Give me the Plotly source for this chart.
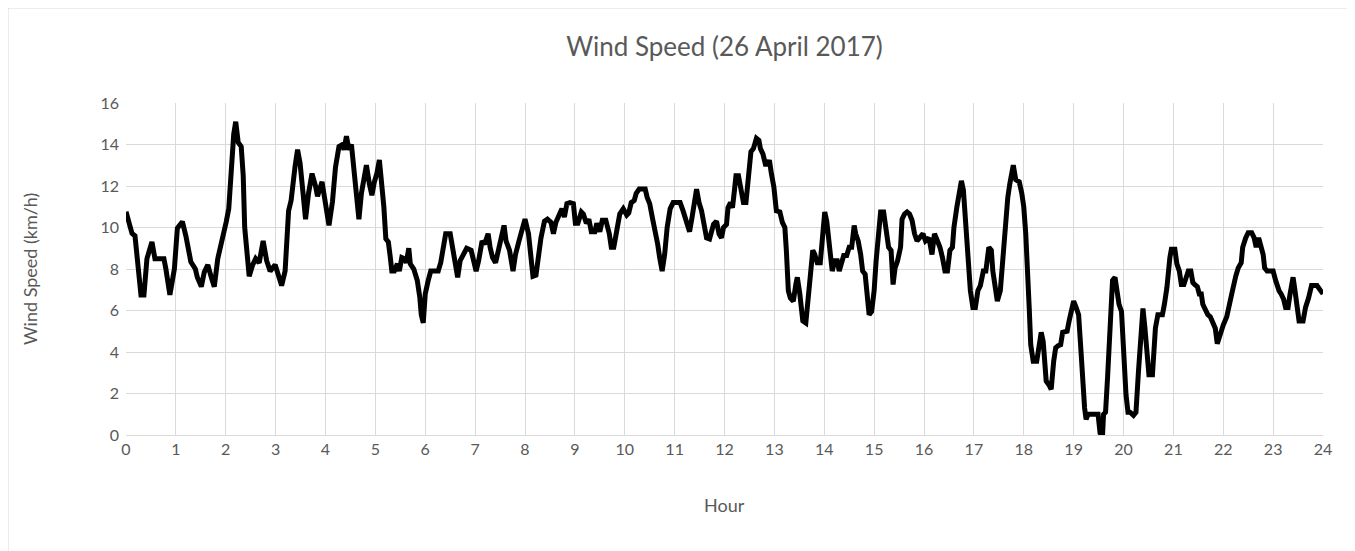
import plotly.graph_objects as go

hours = [0.00,0.12,0.18,0.30,0.36,0.42,0.52,0.58,0.66,0.76,0.80,0.88,0.97,1.03,1.13,1.20,1.30,1.39,1.43,1.51,1.57,1.64,1.71,1.77,1.84,1.91,1.98,
 2.01,2.06,2.11,2.16,2.20,2.25,2.31,2.35,2.38,2.42,2.47,2.54,2.60,2.67,2.75,2.82,2.89,2.99,3.06,3.12,3.19,3.23,3.26,3.31,3.35,3.39,3.44,3.49,3.55,3.60,3.66,3.73,3.80,3.84,3.93,
 4.00,4.07,4.14,4.20,4.27,4.34,4.37,4.42,4.47,4.52,4.57,4.63,4.67,4.72,4.78,4.82,4.88,4.93,4.98,5.03,5.08,5.13,5.17,5.21,5.26,5.30,5.33,5.38,5.44,5.48,5.53,5.58,5.62,5.67,5.70,5.77,5.84,5.89,5.92,5.96,
 6.00,6.06,6.11,6.19,6.26,6.31,6.36,6.41,6.50,6.56,6.65,6.70,6.77,6.83,6.92,6.97,7.02,7.07,7.14,7.19,7.26,7.30,7.35,7.41,7.47,7.51,7.58,7.62,7.69,7.76,7.81,7.88,7.93,
 8.00,8.07,8.11,8.16,8.22,8.27,8.32,8.39,8.45,8.52,8.57,8.62,8.69,8.74,8.79,8.84,8.90,8.97,9.01,9.06,9.13,9.17,9.23,9.28,9.33,9.40,9.44,9.50,9.55,9.62,9.69,9.73,9.78,9.83,9.90,9.97,
 10.04,10.08,10.13,10.19,10.23,10.29,10.34,10.41,10.45,10.50,10.56,10.61,10.66,10.70,10.75,10.80,10.85,10.91,10.97,11.05,11.11,11.17,11.21,11.25,11.30,11.35,11.39,11.44,11.49,11.54,11.59,11.64,11.70,11.74,11.78,11.84,11.89,
 11.94,11.98,12.04,12.07,12.12,12.16,12.20,12.23,12.28,12.33,12.38,12.43,12.49,12.53,12.58,12.64,12.69,12.72,12.77,12.82,12.87,12.90,12.94,12.99,13.04,13.11,13.16,13.21,13.24,13.28,13.32,13.38,13.43,13.46,13.51,13.57,13.63,13.68,13.73,13.77,13.81,13.86,
 13.92,13.96,14.01,14.05,14.12,14.16,14.21,14.26,14.30,14.35,14.39,14.45,14.50,14.55,14.60,14.63,14.68,14.73,14.77,14.82,14.85,14.90,14.95,15.00,15.04,15.09,15.13,15.19,15.24,15.29,15.34,15.38,15.42,15.47,15.53,15.56,15.61,15.66,15.71,15.76,15.81,15.86,
 15.91,15.98,16.03,16.10,16.16,16.21,16.27,16.32,16.37,16.42,16.47,16.52,16.57,16.60,16.66,16.70,16.75,16.79,16.84,16.89,16.93,16.98,17.03,17.08,17.13,17.19,17.24,17.30,17.35,17.38,17.43,17.47,17.53,17.58,17.63,17.68,17.72,17.79,17.84,
 17.91,17.96,18.00,18.04,18.07,18.11,18.14,18.19,18.26,18.31,18.35,18.39,18.45,18.51,18.55,18.60,18.64,18.69,18.74,18.78,18.82,18.87,18.91,18.96,19.00,19.05,19.10,19.15,19.18,19.22,19.25,19.29,19.35,19.42,19.49,19.53,19.58,19.60,19.64,19.68,19.71,19.74,19.78,19.83,
 19.87,19.91,19.96,20.00,20.05,20.09,20.13,20.20,20.25,20.30,20.35,20.39,20.43,20.47,20.51,20.58,20.60,20.64,20.69,20.78,20.82,20.87,20.93,20.96,21.03,21.07,21.12,21.16,21.21,21.27,21.30,21.35,21.39,21.43,21.48,21.52,21.56,21.59,21.65,21.69,21.74,21.78,
 21.84,21.88,21.94,22.00,22.07,22.10,22.18,22.25,22.30,22.36,22.39,22.45,22.50,22.57,22.62,22.66,22.71,22.76,22.80,22.83,22.88,22.94,23.00,23.05,23.08,23.12,23.16,23.21,23.25,23.30,23.34,23.40,23.43,23.48,23.52,23.60,23.65,23.71,23.77,23.88,24.00]

wind_speed = [10.76,9.72,9.6,6.75,6.75,8.5,9.3,8.5,8.5,8.5,8.0,6.75,8.0,9.97,10.28,9.6,8.35,8.0,7.6,7.15,7.85,8.2,7.6,7.15,8.5,9.15,9.97,
 10.28,10.9,13.2,14.5,15.1,14.1,13.9,12.5,10.0,8.9,7.65,8.2,8.5,8.3,9.35,8.4,7.9,8.2,7.65,7.2,7.9,9.7,10.8,11.3,12.3,12.95,13.75,13.1,11.65,10.4,11.65,12.6,12.0,11.5,12.2,
 11.3,10.1,11.25,12.9,13.9,14.0,13.75,14.4,13.75,14.0,12.8,11.3,10.4,11.65,12.6,13.0,12.1,11.55,12.2,12.6,13.25,12.1,11.0,9.45,9.3,8.55,7.9,7.9,8.25,7.9,8.55,8.5,8.3,9.0,8.25,8.0,7.45,6.65,5.8,5.4,
 6.8,7.45,7.9,7.9,7.9,8.3,9.05,9.7,9.7,8.7,7.6,8.4,8.7,9.0,8.9,8.4,7.9,8.4,9.35,9.2,9.7,9.05,8.55,8.3,8.9,9.5,10.1,9.35,8.9,7.9,8.7,9.35,9.85,
 10.4,9.7,8.6,7.65,7.7,8.7,9.5,10.3,10.4,10.25,9.7,10.25,10.65,10.9,10.5,11.15,11.2,11.15,10.2,10.2,10.75,10.65,10.2,10.4,9.8,9.8,10.2,9.8,10.35,10.35,9.7,9.05,9.05,9.7,10.65,10.9,
 10.6,10.7,11.2,11.3,11.65,11.85,11.85,11.85,11.45,11.15,10.4,9.85,9.2,8.55,7.9,8.7,10.0,10.9,11.2,11.2,11.2,10.8,10.5,10.3,9.8,10.5,11.3,11.85,11.2,10.8,10.15,9.5,9.45,9.85,10.15,10.3,9.7,
 9.5,10.0,10.15,10.95,11.2,10.95,11.8,12.5,12.5,11.8,11.2,11.2,12.45,13.65,13.8,14.3,14.2,13.8,13.55,13.05,13.05,13.25,12.6,11.95,10.8,10.75,10.25,10.0,8.9,6.95,6.6,6.45,7.25,7.6,6.8,5.5,5.4,6.8,8.05,8.9,8.7,8.3,
 8.3,9.7,10.75,10.3,8.9,7.9,8.4,8.4,7.9,8.4,8.65,8.65,9.05,9.05,10.1,9.7,9.35,8.7,7.9,7.75,6.95,5.8,5.95,6.95,8.4,10.0,10.75,10.75,10.0,9.05,8.9,7.25,8.05,8.4,9.05,10.4,10.65,10.75,10.65,10.35,9.7,9.35,
 9.5,9.7,9.35,9.5,8.7,9.7,9.35,9.05,8.55,7.9,7.9,8.9,9.05,10.0,11.0,11.45,12.25,11.8,10.0,8.4,6.95,6.15,6.15,6.95,7.2,7.9,7.9,9.05,8.9,7.9,6.95,6.45,6.95,8.55,9.7,11.45,12.1,13.0,12.3,
 12.2,11.65,11.0,9.7,7.45,6.1,4.35,3.55,3.55,4.45,4.95,4.5,2.6,2.4,2.2,3.55,4.2,4.3,4.35,4.95,4.95,5.0,5.5,6.0,6.45,6.15,5.8,3.95,2.6,1.3,0.75,1.0,1.0,1.0,1.0,0.1,0.0,1.0,1.1,2.75,4.5,6.15,7.45,7.6,
 6.8,6.3,5.95,3.95,1.95,1.1,1.1,0.95,1.1,3.05,4.85,6.1,5.15,3.95,2.9,2.9,4.1,5.15,5.8,5.8,6.3,7.1,8.55,8.95,8.95,8.25,7.9,7.25,7.25,7.6,7.9,7.9,7.35,7.25,7.15,6.8,6.8,6.3,5.9,5.8,5.7,5.5,
 5.15,4.4,4.9,5.3,5.7,6.1,6.9,7.65,8.05,8.3,9.05,9.5,9.75,9.75,9.5,9.05,9.5,9.05,8.7,8.05,7.9,7.9,7.9,7.45,7.2,6.95,6.8,6.55,6.15,6.15,6.8,7.6,7.1,6.15,5.5,5.5,6.15,6.6,7.2,7.2,6.8]

x_ticks = list(range(0, 25))
y_ticks = list(range(0, 17, 2))

W, H = 1355, 551
L, R, T, B = 118, 40, 95, 124
PW, PH = W - L - R, H - T - B

fig = go.Figure()
fig.add_trace(go.Scatter(x=hours, y=wind_speed, mode="lines",
                         line=dict(color="#000000", width=5), showlegend=False,
                         hoverinfo="x+y"))

font_fam = "Lato, 'Open Sans', Arial, sans-serif"
grey = "#595959"
fig.update_layout(
    width=W, height=H,
    margin=dict(l=L, r=R, t=T, b=B, autoexpand=False),
    paper_bgcolor="white", plot_bgcolor="white",
    title=dict(text="Wind Speed (26 April 2017)", x=0.5, xref="paper", xanchor="center",
               y=1 - 39/H, yref="container", yanchor="middle",
               font=dict(family=font_fam, size=26, color=grey)),
    font=dict(family=font_fam, color=grey),
    xaxis=dict(range=[0, 24], tickvals=x_ticks, ticktext=[str(t) for t in x_ticks],
               showgrid=True, gridcolor="#d9d9d9", gridwidth=1,
               showline=True, linecolor="#d9d9d9", linewidth=1, mirror=False,
               zeroline=False, ticks="", tickfont=dict(size=16, color=grey)),
    yaxis=dict(range=[0, 16], tickvals=y_ticks, ticktext=[str(t) for t in y_ticks],
               showgrid=True, gridcolor="#d9d9d9", gridwidth=1,
               showline=False, zeroline=False, ticks="", ticklabelstandoff=6,
               tickfont=dict(size=16, color=grey)),
    annotations=[
        dict(text="Hour", xref="paper", yref="paper", x=0.5, y=-(497 - (T + PH)) / PH,
             xanchor="center", yanchor="middle", showarrow=False,
             font=dict(family=font_fam, size=18, color=grey)),
        dict(text="Wind Speed (km/h)", xref="paper", yref="paper", x=-(L - 22) / PW, y=0.5,
             xanchor="center", yanchor="middle", textangle=-90, showarrow=False,
             font=dict(family=font_fam, size=18, color=grey)),
    ],
)
# chart border
fig.add_shape(type="rect", xref="paper", yref="paper",
              x0=-L / PW, x1=1 + (R - 3) / PW, y0=-(B + 5) / PH, y1=1 + T / PH,
              line=dict(color="#d9d9d9", width=1), fillcolor="rgba(0,0,0,0)", layer="below")

fig.write_html("out.html")
